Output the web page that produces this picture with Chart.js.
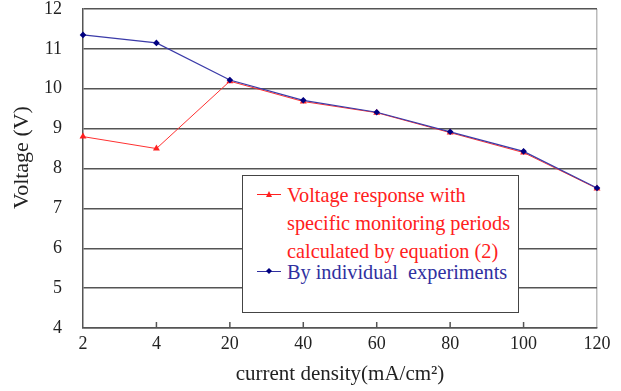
<!DOCTYPE html>
<html>
<head>
<meta charset="utf-8">
<script src="https://cdn.jsdelivr.net/npm/chart.js@4.4.0/dist/chart.umd.min.js"></script>
<style>
  body { margin: 0; background: #fff; }
  #wrap { position: relative; width: 621px; height: 391px; }
  #legend {
    position: absolute; left: 242px; top: 175px; width: 275px; height: 136px;
    border: 1.5px solid #444; background: #fff;
    font-family: "Liberation Serif", serif; font-size: 20.3px; line-height: 28px;
  }
  .row { position: relative; padding-left: 44px; white-space: nowrap; }
  .sample { position: absolute; left: 14px; top: 13px; width: 24px; height: 1px; }
  .sample i { position: absolute; left: 9px; top: -3px; width: 6px; height: 6px; }
</style>
</head>
<body>
<div id="wrap">
  <canvas id="grafico" width="621" height="391"></canvas>
  <div id="legend">
    <div class="row" style="color:#ff2020;margin-top:5px">
      <span class="sample" style="background:#ff2020"><i style="background:#ff2020;clip-path:polygon(50% 0,100% 100%,0 100%)"></i></span>
      Voltage response with<br>specific monitoring periods<br>calculated by equation (2)
    </div>
    <div class="row" style="color:#3030a0;margin-top:-7px">
      <span class="sample" style="background:#3030a0"><i style="background:#000080;clip-path:polygon(50% 0,100% 50%,50% 100%,0 50%)"></i></span>
      By individual&nbsp; experiments
    </div>
  </div>
</div>
<script>
// categorie asse x (densita' di corrente)
var correnti = ['2', '4', '20', '40', '60', '80', '100', '120'];
// tensione calcolata con equazione (2)
var tensioneCalcolata = [8.8, 8.5, 10.19, 9.68, 9.4, 8.9, 8.4, 7.5];
// tensione da esperimenti singoli
var tensioneEsperimenti = [11.35, 11.15, 10.22, 9.71, 9.41, 8.92, 8.43, 7.51];

var serif = '"Liberation Serif", serif';

// tacche interne sull'asse x
var tacche = {
    id: 'tacche',
    afterDraw: function (chart) {
        var ctx = chart.ctx;
        var sx = chart.scales.x;
        var fondo = chart.chartArea.bottom;
        ctx.save();
        ctx.strokeStyle = '#555';
        ctx.lineWidth = 1.5;
        for (var i = 1; i < correnti.length - 1; i++) {
            var px = sx.getPixelForTick(i);
            ctx.beginPath();
            ctx.moveTo(px, fondo);
            ctx.lineTo(px, fondo - 6);
            ctx.stroke();
        }
        ctx.restore();
    }
};

var ctx = document.getElementById('grafico').getContext('2d');
var chart = new Chart(ctx, {
    type: 'line',
    data: {
        labels: correnti,
        datasets: [{
            label: 'Voltage response with specific monitoring periods calculated by equation (2)',
            data: tensioneCalcolata,
            borderColor: '#ff3030',
            backgroundColor: '#ff2020',
            borderWidth: 1,
            pointStyle: 'triangle',
            pointRadius: 4,
            pointBorderWidth: 0,
            order: 1
        }, {
            label: 'By individual  experiments',
            data: tensioneEsperimenti,
            borderColor: '#3a3aa8',
            backgroundColor: '#000080',
            borderWidth: 1.2,
            pointStyle: 'rectRot',
            pointRadius: 3.3,
            pointBorderWidth: 0,
            order: 0
        }]
    },
    options: {
        responsive: false,
        animation: false,
        layout: { padding: { top: 9, right: 24, left: 0, bottom: 0 } },
        plugins: { legend: { display: false }, tooltip: { enabled: false } },
        scales: {
            x: {
                offset: false,
                grid: {
                    drawTicks: false,
                    lineWidth: 1.5,
                    color: function (c) { return c.index === correnti.length - 1 ? '#bbb' : 'rgba(0,0,0,0)'; }
                },
                border: { color: '#555', width: 1.5 },
                ticks: { color: '#222', padding: 5, font: { family: serif, size: 18 }, maxRotation: 0 },
                title: { display: true, text: 'current density(mA/cm²)', color: '#222', font: { family: serif, size: 21 }, padding: { top: 2 } },
                afterFit: function (s) { s.height = 63; }
            },
            y: {
                min: 4,
                max: 12,
                grid: { color: '#555', lineWidth: 1.5, drawTicks: false },
                border: { color: '#555', width: 1.5 },
                ticks: { stepSize: 1, color: '#222', padding: 21, font: { family: serif, size: 18 } },
                title: { display: true, text: '    Voltage (V)', color: '#222', font: { family: serif, size: 22 }, padding: { top: 9, bottom: 0 } },
                afterFit: function (s) { s.width = 83; s.paddingTop = 0; s.paddingBottom = 0; }
            }
        }
    },
    plugins: [tacche]
});
</script>
</body>
</html>
